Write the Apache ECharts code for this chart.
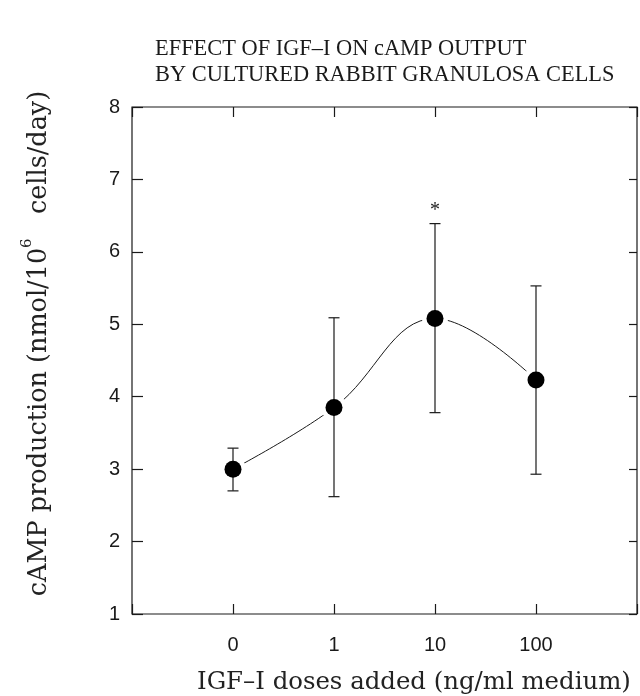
<!DOCTYPE html>
<html>
<head>
<meta charset="utf-8">
<title>IGF-I cAMP</title>
<script src="https://cdn.jsdelivr.net/npm/echarts@6/dist/echarts.min.js"></script>
<style>
  html, body { margin: 0; padding: 0; background: #fff; }
  #chart { width: 640px; height: 696px; }
</style>
</head>
<body>
<div id="chart"></div>
<script>
  // doses on the x axis (shown as categories at positions 0..3)
  const doses = ['0', '1', '10', '100']
  // mean cAMP and the ends of the error bars
  const meanValues = [3.0, 3.85, 5.08, 4.23]
  const upperValues = [3.29, 5.09, 6.39, 5.53]
  const lowerValues = [2.70, 2.62, 3.78, 2.93]
  const significance = ['', '', '*', '']

  const ink = '#1a1a1a'
  const serif = '"Liberation Serif", "DejaVu Serif", serif'
  const wideSerif = '"DejaVu Serif", "Liberation Serif", serif'
  const sans = '"Liberation Sans", Arial, sans-serif'

  let myChart = echarts.init(document.getElementById('chart'))

  const points = meanValues.map((v, i) => [i, v])
  const bars = doses.map((d, i) => [i, upperValues[i], lowerValues[i]])

  myChart.setOption({
    animation: false,
    title: [
      {
        text: 'EFFECT OF IGF\u2013I ON cAMP OUTPUT\nBY CULTURED RABBIT GRANULOSA CELLS',
        left: 150,
        top: 31,
        textStyle: { fontFamily: serif, fontWeight: 'normal', fontSize: 22.4, lineHeight: 26, color: ink }
      },
      {
        text: 'IGF\u2013I doses added (ng/ml medium)',
        left: 192,
        top: 666,
        textStyle: { fontFamily: wideSerif, fontWeight: 'normal', fontSize: 24.4, color: '#222' }
      }
    ],
    grid: {
      left: 132,
      right: -1,
      top: 107,
      bottom: 82,
      show: true,
      borderColor: ink,
      borderWidth: 1.2
    },
    xAxis: [
      {
        type: 'value',
        min: -1,
        max: 4,
        interval: 1,
        axisLine: { show: false, onZero: false },
        axisTick: { inside: true, length: 10, lineStyle: { color: ink, width: 1.2 } },
        axisLabel: {
          margin: 21,
          fontFamily: sans,
          fontSize: 20,
          color: ink,
          formatter: function(v) {
            return doses[v] !== undefined ? doses[v] : ''
          }
        },
        splitLine: { show: false }
      },
      {
        type: 'value',
        position: 'top',
        min: -1,
        max: 4,
        interval: 1,
        axisLine: { show: false, onZero: false },
        axisTick: { inside: true, length: 10, lineStyle: { color: ink, width: 1.2 } },
        axisLabel: { show: false },
        splitLine: { show: false }
      }
    ],
    yAxis: [
      {
        type: 'value',
        min: 1,
        max: 8,
        interval: 1,
        name: '{n|cAMP production (nmol/10}{s|6}{n|   cells/day)}',
        nameLocation: 'middle',
        nameRotate: 90,
        nameGap: 80,
        nameTextStyle: {
          padding: [0, 0, 0, 34],
          rich: {
            n: { fontFamily: wideSerif, fontSize: 25.5, color: '#222', verticalAlign: 'bottom' },
            s: { fontFamily: wideSerif, fontSize: 15, color: '#222', padding: [0, 0, 17, 0] }
          }
        },
        axisLine: { show: false, onZero: false },
        axisTick: { inside: true, length: 11, lineStyle: { color: ink, width: 1.2 } },
        axisLabel: { margin: 12, fontFamily: sans, fontSize: 20, color: ink },
        splitLine: { show: false }
      },
      {
        type: 'value',
        position: 'right',
        min: 1,
        max: 8,
        interval: 1,
        axisLine: { show: false, onZero: false },
        axisTick: { inside: true, length: 8, lineStyle: { color: ink, width: 1.2 } },
        axisLabel: { show: false },
        splitLine: { show: false }
      }
    ],
    series: [
      {
        type: 'line',
        data: points,
        smooth: 0.4,
        symbol: 'none',
        lineStyle: { color: ink, width: 1 },
        z: 1
      },
      {
        // white halo so the curve stops short of the dots
        type: 'scatter',
        data: points,
        symbolSize: 26,
        itemStyle: { color: '#fff', opacity: 1 },
        z: 2
      },
      {
        type: 'custom',
        data: bars,
        z: 3,
        renderItem: function(params, api) {
          const x = api.value(0)
          const top = api.coord([x, api.value(1)])
          const bot = api.coord([x, api.value(2)])
          const cap = 5.5
          const style = { stroke: ink, lineWidth: 1.2 }
          const children = [
            { type: 'line', shape: { x1: top[0], y1: top[1], x2: bot[0], y2: bot[1] }, style: style },
            { type: 'line', shape: { x1: top[0] - cap, y1: top[1], x2: top[0] + cap, y2: top[1] }, style: style },
            { type: 'line', shape: { x1: bot[0] - cap, y1: bot[1], x2: bot[0] + cap, y2: bot[1] }, style: style }
          ]
          const mark = significance[params.dataIndex]
          if (mark) {
            children.push({
              type: 'text',
              x: top[0],
              y: top[1] - 3,
              style: {
                text: mark,
                fill: ink,
                font: '20px ' + serif,
                align: 'center',
                verticalAlign: 'bottom'
              }
            })
          }
          return { type: 'group', children: children }
        }
      },
      {
        type: 'scatter',
        data: points,
        symbolSize: 17,
        itemStyle: { color: '#000', opacity: 1 },
        z: 4
      }
    ]
  })
</script>
</body>
</html>
